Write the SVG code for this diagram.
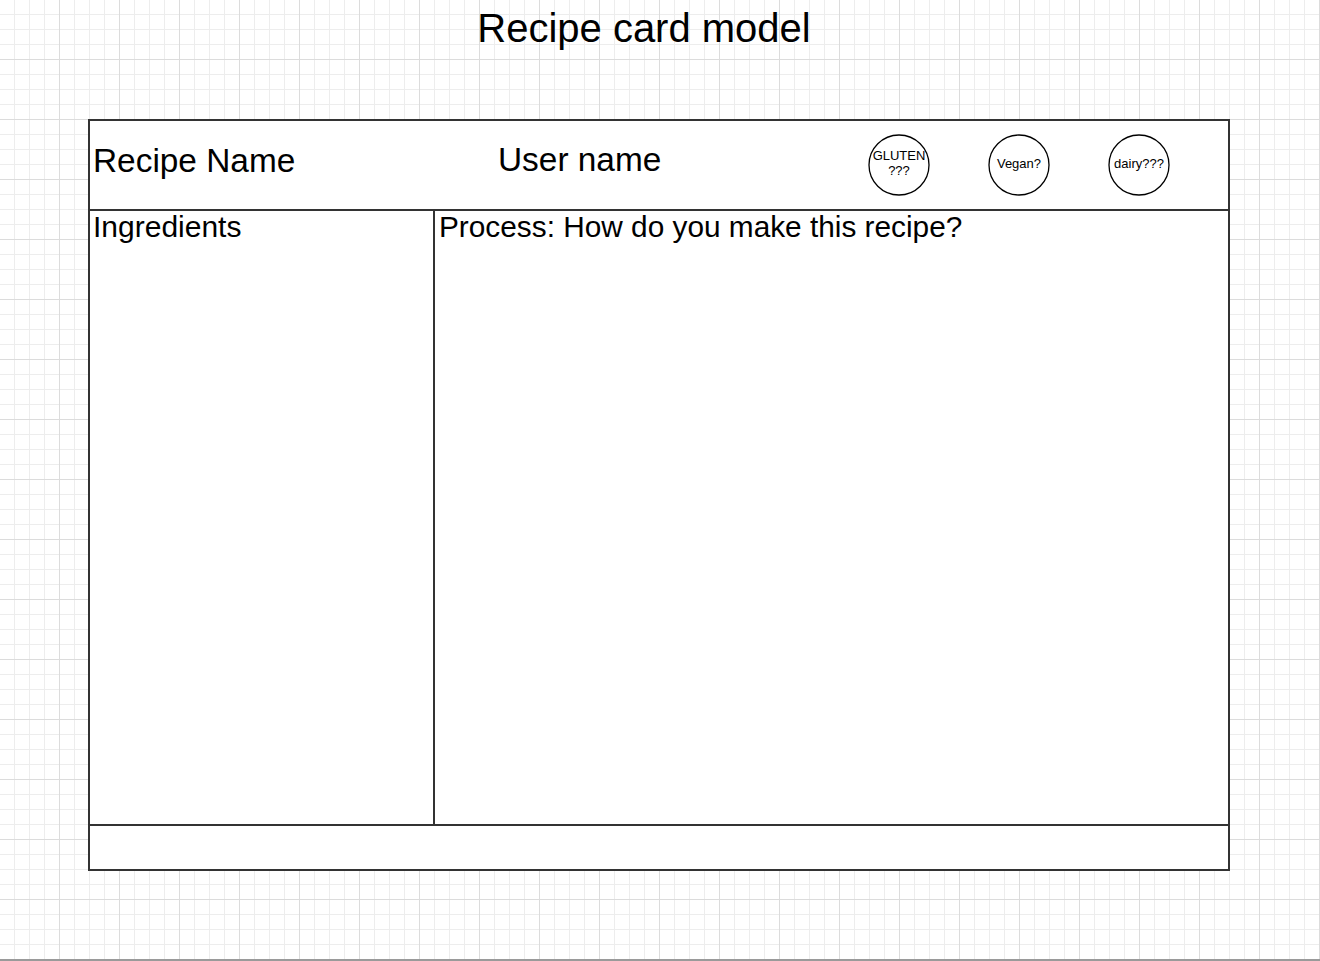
<svg xmlns="http://www.w3.org/2000/svg" width="1320" height="961" viewBox="0 0 1320 961">
<defs>
<pattern id="minor" width="15" height="15" patternUnits="userSpaceOnUse" x="0" y="0">
<path d="M14.5 0V15M0 14.5H15" stroke="#ededed" stroke-width="1" fill="none"/>
</pattern>
<pattern id="major" width="60" height="60" patternUnits="userSpaceOnUse" x="0" y="0">
<rect width="60" height="60" fill="url(#minor)"/>
<path d="M59.5 0V60M0 59.5H60" stroke="#dcdcdc" stroke-width="1" fill="none"/>
</pattern>
<style>
.t{font-family:"Liberation Sans",Arial,sans-serif;fill:#000}
.box{fill:#fff;stroke:#333;stroke-width:2}
.ln{stroke:#333;stroke-width:2;fill:none}
.c{fill:#fff;stroke:#000;stroke-width:1.3}
</style>
</defs>
<rect width="1320" height="961" fill="#fff"/>
<rect width="1320" height="959" fill="url(#major)"/>
<rect x="0" y="959" width="1320" height="2" fill="#9a9a9a"/>
<g id="title"><text class="t" x="644" y="42" font-size="40" text-anchor="middle">Recipe card model</text></g>
<g id="card">
<rect class="box" x="89" y="120" width="1140" height="750"/>
</g>
<g id="connectors">
<path class="ln" d="M89 210H1229M434 210V825M89 825H1229"/>
</g>
<g id="recipe-name"><text class="t" x="93" y="172" font-size="33.4">Recipe Name</text></g>
<g id="user-name"><text class="t" x="498" y="171" font-size="33.4">User name</text></g>
<g id="ingredients"><text class="t" x="93" y="237" font-size="30">Ingredients</text></g>
<g id="process"><text class="t" x="439" y="237" font-size="29.8">Process: How do you make this recipe?</text></g>
<g id="gluten"><circle class="c" cx="899" cy="165" r="30"/><text class="t" x="899" y="160" font-size="13" text-anchor="middle">GLUTEN</text><text class="t" x="899" y="175" font-size="13" text-anchor="middle">???</text></g>
<g id="vegan"><circle class="c" cx="1019" cy="165" r="30"/><text class="t" x="1019" y="168" font-size="13" text-anchor="middle">Vegan?</text></g>
<g id="dairy"><circle class="c" cx="1139" cy="165" r="30"/><text class="t" x="1139" y="168" font-size="13" text-anchor="middle">dairy???</text></g>
</svg>
